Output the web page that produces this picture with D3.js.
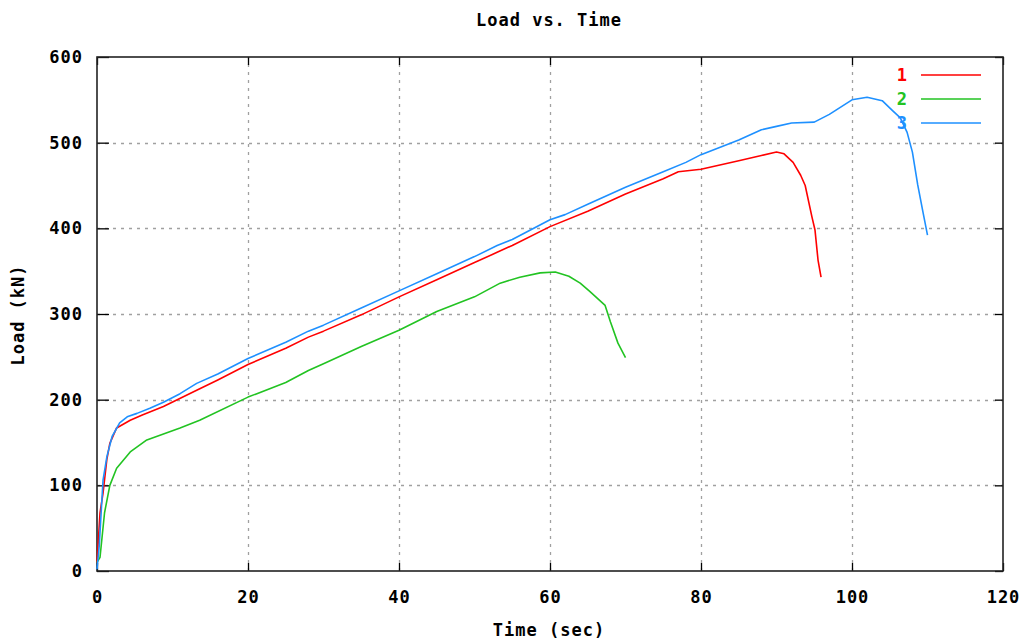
<!DOCTYPE html>
<html>
<head>
<meta charset="utf-8">
<script src="https://cdn.jsdelivr.net/npm/d3@7"></script>
<style>
  html, body { margin: 0; padding: 0; background: #fff; }
  svg { display: block; }
  text { font-family: "DejaVu Sans Mono", "Liberation Mono", monospace; font-weight: bold; font-size: 17px; letter-spacing: 1px; }
</style>
</head>
<body>
<svg id="chart" width="1029" height="641"></svg>
<script>
// Load (kN) against time (sec) for three test specimens
const seriesNames = ["1", "2", "3"];
const seriesColors = ["#ff0000", "#22c322", "#1e90ff"];

const time1 = [0, 0.4, 0.8, 1.3, 1.7, 2.6, 4.4, 6, 8.8, 13.2, 16, 20, 25, 28, 30, 35, 40, 45, 50, 53, 55, 60, 65, 70, 75, 77, 80, 85, 88, 90, 91, 92.2, 93.2, 93.8, 94.7, 95.1, 95.5, 95.9];
const load1 = [10, 68, 91, 130, 149, 167, 176, 182, 192, 211, 223, 241, 260, 273, 280, 299, 320, 340, 360, 372, 380, 402, 420, 440, 458, 466, 469, 479, 485, 489, 487, 477, 462, 450, 413, 398, 363, 343];

const time2 = [0, 0.4, 1, 1.7, 2.6, 4.4, 6.6, 11, 13.6, 20, 25, 28, 30, 35, 40, 45, 50, 53.4, 56, 58.7, 60.7, 62.5, 64, 65.3, 67.3, 68, 69, 70];
const load2 = [10, 16, 68, 100, 120, 139, 153, 167, 176, 203, 220, 234, 242, 262, 281, 303, 320, 336, 343, 348, 349, 344, 336, 326, 310, 291, 266, 249];

const time3 = [0, 0.3, 0.8, 1.3, 2, 3, 4, 5.3, 7, 8.8, 11, 13.2, 16, 20, 25, 28, 30, 35, 40, 45, 50, 53, 55, 60, 62, 65, 70, 75, 78, 80, 85, 88, 90, 92, 95, 97, 100, 102, 104, 105.3, 106.4, 107.3, 108, 108.7, 109.4, 110];
const load3 = [2, 30, 106, 133, 157, 173, 180, 184, 190, 197, 207, 219, 230, 248, 267, 280, 287, 307, 327, 347, 367, 380, 387, 410, 416, 428, 448, 466, 477, 486, 503, 515, 519, 523, 524, 533, 550, 553, 549, 538, 529, 512, 489, 451, 419, 392];

const xTicks = [0, 20, 40, 60, 80, 100, 120];
const yTicks = [0, 100, 200, 300, 400, 500, 600];

const svg = d3.select("#chart");
const plot = { left: 97, right: 1003, top: 57, bottom: 571 };

const x = d3.scaleLinear().domain([0, 120]).range([plot.left, plot.right]);
const y = d3.scaleLinear().domain([0, 600]).range([plot.bottom, plot.top]);

// dotted grid
const grid = svg.append("g").attr("stroke", "#a0a0a0").attr("stroke-width", 1.3).attr("stroke-dasharray", "3,5");
grid.selectAll("line.vx").data(xTicks.slice(1, -1)).enter().append("line")
  .attr("x1", d => Math.round(x(d)) + 0.5).attr("x2", d => Math.round(x(d)) + 0.5)
  .attr("y1", plot.bottom).attr("y2", plot.top);
grid.selectAll("line.hy").data(yTicks.slice(1, -1)).enter().append("line")
  .attr("y1", d => Math.round(y(d)) + 0.5).attr("y2", d => Math.round(y(d)) + 0.5)
  .attr("x1", plot.left).attr("x2", plot.right);

// axes with inward ticks, labels drawn by the axis generators
const xAxis = svg.append("g").attr("transform", `translate(0,${plot.bottom})`)
  .call(d3.axisBottom(x).tickValues(xTicks).tickSize(-8).tickPadding(26).tickFormat(d3.format("d")));
const yAxis = svg.append("g").attr("transform", `translate(${plot.left},0)`)
  .call(d3.axisLeft(y).tickValues(yTicks).tickSize(-12).tickPadding(14).tickFormat(d3.format("d")));
// mirrored ticks on top and right
const xTop = svg.append("g").attr("transform", `translate(0,${plot.top})`)
  .call(d3.axisTop(x).tickValues(xTicks).tickSize(-8).tickFormat(""));
const yRight = svg.append("g").attr("transform", `translate(${plot.right},0)`)
  .call(d3.axisRight(y).tickValues(yTicks).tickSize(-8).tickFormat(""));

[xAxis, yAxis, xTop, yRight].forEach(g => {
  g.select(".domain").remove();
  g.selectAll(".tick line").attr("stroke", "#000").attr("stroke-width", 1.3);
  g.selectAll(".tick text").attr("font-family", null).attr("font-size", null).style("fill", "#000");
});
xAxis.selectAll(".tick text").attr("dy", "0.35em");

// plot border
svg.append("rect")
  .attr("x", plot.left).attr("y", plot.top)
  .attr("width", plot.right - plot.left).attr("height", plot.bottom - plot.top)
  .attr("fill", "none").attr("stroke", "#222").attr("stroke-width", 1.6);

// curves
const allSeries = [
  { name: seriesNames[0], color: seriesColors[0], t: time1, v: load1 },
  { name: seriesNames[1], color: seriesColors[1], t: time2, v: load2 },
  { name: seriesNames[2], color: seriesColors[2], t: time3, v: load3 }
];
const line = d3.line().x(d => x(d[0])).y(d => y(d[1]));
svg.append("g").selectAll("path").data(allSeries).enter().append("path")
  .attr("d", s => line(s.t.map((t, i) => [t, s.v[i]])))
  .attr("fill", "none")
  .attr("stroke", s => s.color)
  .attr("stroke-width", 1.6)
  .attr("stroke-linejoin", "round");

// legend
const legend = svg.append("g");
allSeries.forEach((s, i) => {
  const ly = 75 + i * 24;
  legend.append("text").attr("x", 908).attr("y", ly).attr("dy", "0.35em")
    .attr("text-anchor", "end").style("fill", s.color).text(s.name);
  legend.append("line").attr("x1", 921).attr("x2", 981).attr("y1", ly).attr("y2", ly)
    .attr("stroke", s.color).attr("stroke-width", 1.6);
});

// titles
svg.append("text").attr("x", 549).attr("y", 20).attr("dy", "0.35em")
  .attr("text-anchor", "middle").style("fill", "#000").text("Load vs. Time");
svg.append("text").attr("x", 549).attr("y", 630).attr("dy", "0.35em")
  .attr("text-anchor", "middle").style("fill", "#000").text("Time (sec)");
svg.append("text").attr("transform", "translate(18,315) rotate(-90)").attr("dy", "0.35em")
  .attr("text-anchor", "middle").style("fill", "#000").text("Load (kN)");
</script>
</body>
</html>
